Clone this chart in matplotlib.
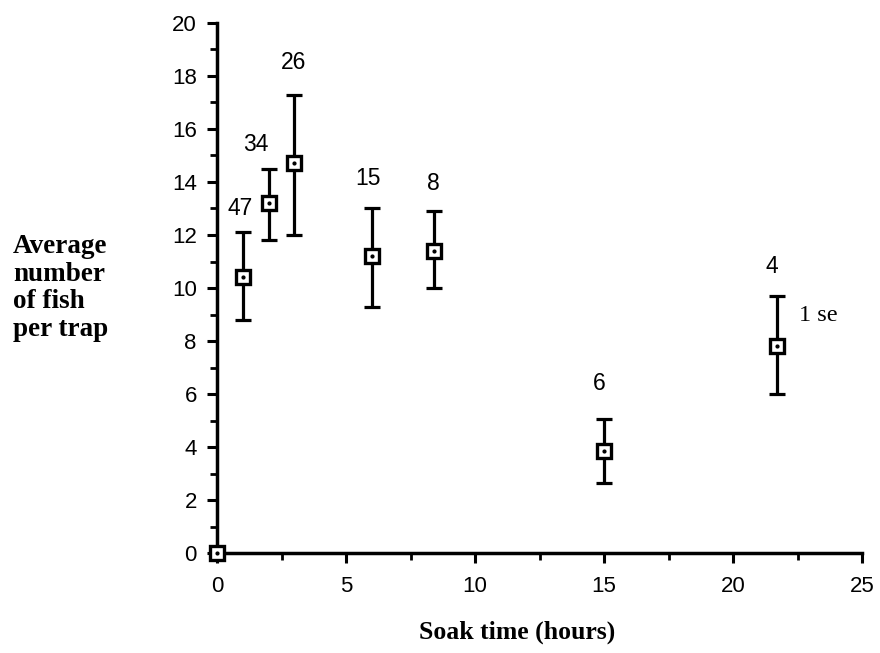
import matplotlib.pyplot as plt
from matplotlib.ticker import MultipleLocator

# soak time (hours) and mean catch per trap
soak_hours = [0, 1, 2, 3, 6, 8.4, 15, 21.7]
mean_fish = [0, 10.4, 13.2, 14.7, 11.2, 11.4, 3.85, 7.8]
err_low = [0, 1.6, 1.4, 2.7, 1.9, 1.4, 1.2, 1.8]
err_high = [0, 1.7, 1.3, 2.6, 1.8, 1.5, 1.2, 1.9]

# sample sizes written above each bar
n_labels = ["47", "34", "26", "15", "8", "6", "4"]
n_label_x = [0.9, 1.5, 2.95, 5.85, 8.4, 14.8, 21.5]
n_label_y = [13.0, 15.4, 18.5, 14.15, 13.95, 6.4, 10.8]

fig = plt.figure(figsize=(8.8, 6.53), dpi=100)
ax = fig.add_axes([0.2466, 0.1531, 0.733, 0.8117])

ax.errorbar(soak_hours[1:], mean_fish[1:], yerr=[err_low[1:], err_high[1:]],
            fmt="none", ecolor="black", elinewidth=2.3, capsize=5.5, capthick=2.3)
ax.plot(soak_hours, mean_fish, linestyle="none", marker="s", markersize=9.5,
        markerfacecolor="white", markeredgecolor="black", markeredgewidth=2.4,
        clip_on=False, zorder=5)
ax.plot(soak_hours, mean_fish, linestyle="none", marker="o", markersize=2,
        color="black", clip_on=False, zorder=6)

for lab, lx, ly in zip(n_labels, n_label_x, n_label_y):
    ax.text(lx, ly, lab, ha="center", va="center", fontsize=16.5,
            family="Liberation Sans")

ax.text(22.55, 8.95, "1 se", ha="left", va="center", fontsize=17.5,
        family="Liberation Serif")

ax.set_xlim(0, 25)
ax.set_ylim(0, 20)
ax.xaxis.set_major_locator(MultipleLocator(5))
ax.xaxis.set_minor_locator(MultipleLocator(2.5))
ax.yaxis.set_major_locator(MultipleLocator(2))
ax.yaxis.set_minor_locator(MultipleLocator(1))

for side in ["top", "right"]:
    ax.spines[side].set_visible(False)
for side in ["left", "bottom"]:
    ax.spines[side].set_linewidth(2.5)

ax.tick_params(which="major", direction="out", length=7.5, width=2.2,
               labelsize=16)
ax.tick_params(axis="y", which="major", pad=7)
ax.tick_params(axis="x", which="major", pad=9)
ax.tick_params(which="minor", direction="out", length=5, width=2)
for lbl in ax.get_xticklabels() + ax.get_yticklabels():
    lbl.set_family("Liberation Sans")

ax.set_xlabel("Soak time (hours)", fontsize=18.5, fontweight="bold",
              family="Liberation Serif")
ax.xaxis.set_label_coords(0.465, -0.128)

fig.text(0.015, 0.559, "Average\nnumber\nof fish\nper trap", ha="left",
         va="center", fontsize=19.5, fontweight="bold", family="Liberation Serif",
         linespacing=1.13)

fig.savefig("out.png", dpi=100)
